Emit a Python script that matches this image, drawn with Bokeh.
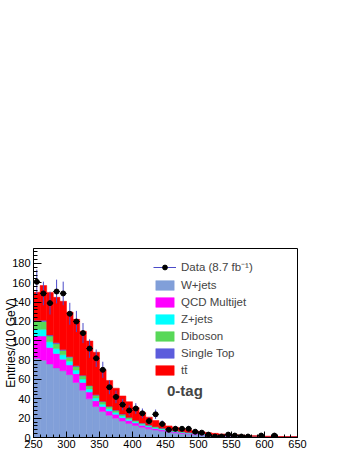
import math
from bokeh.plotting import figure
from bokeh.models import (ColumnDataSource, Range1d, SingleIntervalTicker, Legend,
                          LegendItem, Label)
from bokeh.embed import file_html
from bokeh.resources import INLINE

# ---------------- data (H_T bins of 10 GeV, low edges) ----------------
bin_low = list(range(250, 650, 10))

wjets = [82, 80, 76, 72, 69, 65, 57, 49, 40, 32, 27, 23, 20, 17, 14.5, 12.5, 10.5, 9, 7.8, 6.6,
         5.6, 4.8, 4.1, 3.5, 3.0, 2.6, 2.2, 1.9, 1.6, 1.4, 1.2, 1.0, 0.9, 0.8, 0.7, 0.6, 0.5, 0.45, 0.4, 0.35]
qcd = [23, 25, 17, 15, 12, 10, 9, 8, 7, 6, 5, 4.5, 4, 3.5, 3, 2.5, 2.1, 1.8, 1.5, 1.3,
       1.1, 1.0, 0.9, 0.8, 0.7, 0.6, 0.5, 0.45, 0.4, 0.35, 0.3, 0.25, 0.2, 0.2, 0.15, 0.15, 0.1, 0.1, 0.1, 0.1]
zjets = [7, 7, 6, 5, 4.5, 4, 3.7, 3.4, 3.1, 2.8, 2.5, 2.2, 2.0, 1.7, 1.5, 1.3, 1.1, 1.0, 0.9, 0.8,
         0.7, 0.6, 0.5, 0.45, 0.4, 0.35, 0.3, 0.25, 0.2, 0.2, 0.15, 0.15, 0.1, 0.1, 0.1, 0.1, 0.05, 0.05, 0.05, 0.05]
diboson = [8, 8, 6, 5, 4.5, 4, 3.7, 3.4, 3.1, 2.8, 2.5, 2.2, 2.0, 1.7, 1.5, 1.3, 1.1, 1.0, 0.9, 0.8,
           0.7, 0.6, 0.5, 0.45, 0.4, 0.35, 0.3, 0.25, 0.2, 0.2, 0.15, 0.15, 0.1, 0.1, 0.1, 0.1, 0.05, 0.05, 0.05, 0.05]
singletop = [1.2, 1.2, 1.1, 1.0, 0.9, 0.8, 0.8, 0.7, 0.6, 0.6, 0.5, 0.5, 0.4, 0.4, 0.35, 0.3, 0.3, 0.25, 0.25, 0.2,
             0.2, 0.2, 0.18, 0.16, 0.15, 0.13, 0.12, 0.1, 0.1, 0.1, 0.08, 0.08, 0.07, 0.06, 0.05, 0.05, 0.05, 0.04, 0.04, 0.03]
ttbar = [29, 36, 44, 47, 50, 46, 48, 45.5, 46, 44, 32.5, 26.6, 22.6, 18.7, 16.2, 13.1, 10.9, 8, 6.2, 4.8,
         3.7, 3.3, 3.0, 2.6, 2.15, 1.8, 1.6, 1.35, 1.2, 0.95, 0.9, 0.8, 0.7, 0.55, 0.5, 0.4, 0.45, 0.35, 0.26, 0.22]
data = [161, 149, 139, 151, 149, 128, 120, 108, 92, 82, 70, 52, 42, 34, 28, 30, 25, 17, 24, 14,
        8, 9, 9, 9, 6, 5, 3, 1, 1, 3, 2, 1, 1, 0, 2, 0, 2, 0, 0, 0]

x_ticks_interval = 50
y_ticks_interval = 20
legend_labels = ["Data (8.7 fb\u207b\u00b9)", "W+jets", "QCD Multijet", "Z+jets", "Diboson",
                 "Single Top", "tt\u0304"]
colors = ["#819fd9", "#ff00ff", "#00ffff", "#58d858", "#5c5cdc", "#ff0000"]
FONT = "Liberation Sans"

# ---------------- figure ----------------
p = figure(width=349, height=462, output_backend="svg", toolbar_location=None,
           x_range=Range1d(250, 650), y_range=Range1d(0, 195.5),
           min_border_left=33, min_border_right=52, min_border_top=248, min_border_bottom=25)
p.title.visible = False
p.xgrid.visible = False
p.ygrid.visible = False
p.background_fill_color = "white"
p.border_fill_color = "white"
p.outline_line_color = "black"
p.outline_line_width = 1

centers = [b + 5 for b in bin_low]
stack_names = ["wjets", "qcd", "zjets", "diboson", "singletop", "ttbar"]
src = ColumnDataSource(dict(x=centers, wjets=wjets, qcd=qcd, zjets=zjets, diboson=diboson,
                            singletop=singletop, ttbar=ttbar))
bars = p.vbar_stack(stack_names, x="x", width=10, source=src, fill_color=colors,
                    line_color=colors, line_width=0.5)

# data points
dx, dy, lo, hi, xl, xr = [], [], [], [], [], []
for c, v in zip(centers, data):
    if v > 0:
        dx.append(c); dy.append(v)
        e = math.sqrt(v)
        lo.append(v - e); hi.append(v + e)
        xl.append(c - 5); xr.append(c + 5)
dsrc = ColumnDataSource(dict(x=dx, y=dy, lo=lo, hi=hi, xl=xl, xr=xr))
err_v = p.segment(x0="x", y0="lo", x1="x", y1="hi", source=dsrc, line_color="#4b4bc8", line_width=1)
err_h = p.segment(x0="xl", y0="y", x1="xr", y1="y", source=dsrc, line_color="black", line_width=1)
pts = p.scatter(x="x", y="y", source=dsrc, size=5, color="black")

# axes
for ax, interval, tin, tmin in ((p.xaxis[0], x_ticks_interval, 6, 3), (p.yaxis[0], y_ticks_interval, 8, 4)):
    ax.ticker = SingleIntervalTicker(interval=interval, num_minor_ticks=5)
    ax.major_tick_in = tin
    ax.major_tick_out = 0
    ax.minor_tick_in = tmin
    ax.minor_tick_out = 0
    ax.axis_line_color = "black"
    ax.major_tick_line_color = "black"
    ax.minor_tick_line_color = "black"
    ax.major_label_text_font = FONT
    ax.major_label_text_font_size = "11px"
    ax.major_label_text_color = "black"
p.xaxis.major_label_standoff = 2
p.yaxis.major_label_standoff = 3

yax = p.yaxis[0]
yax.axis_label = "Entries/(10 GeV)"
yax.axis_label_text_font = FONT
yax.axis_label_text_font_size = "12px"
yax.axis_label_text_font_style = "normal"
yax.axis_label_text_color = "black"
yax.axis_label_standoff = -9

# legend
items = [LegendItem(label=legend_labels[0], renderers=[err_v, pts])]
for lab, r in zip(legend_labels[1:], bars):
    items.append(LegendItem(label=lab, renderers=[r]))
legend = Legend(items=items, location=(120, 61), glyph_width=23, glyph_height=12, label_height=12,
                spacing=5, padding=0, margin=0, border_line_alpha=0, background_fill_alpha=0,
                label_text_font=FONT, label_text_font_size="11.5px", label_standoff=5)
p.add_layout(legend)

# texts
p.add_layout(Label(x=452.3, y=48.6, text="0-tag", text_font=FONT, text_font_style="bold",
                   text_font_size="15px", text_baseline="alphabetic", text_align="left"))
p.add_layout(Label(x=413.6, y=-19.6, text="H", text_font=FONT, text_font_size="12px",
                   text_baseline="alphabetic", text_align="left"))
p.add_layout(Label(x=426.8, y=-20.9, text="T", text_font=FONT, text_font_size="8.5px",
                   text_baseline="alphabetic", text_align="left"))
p.add_layout(Label(x=434.8, y=-19.6, text=" (GeV)", text_font=FONT, text_font_size="12px",
                   text_baseline="alphabetic", text_align="left"))

open("out.html", "w").write(file_html(p, INLINE))
